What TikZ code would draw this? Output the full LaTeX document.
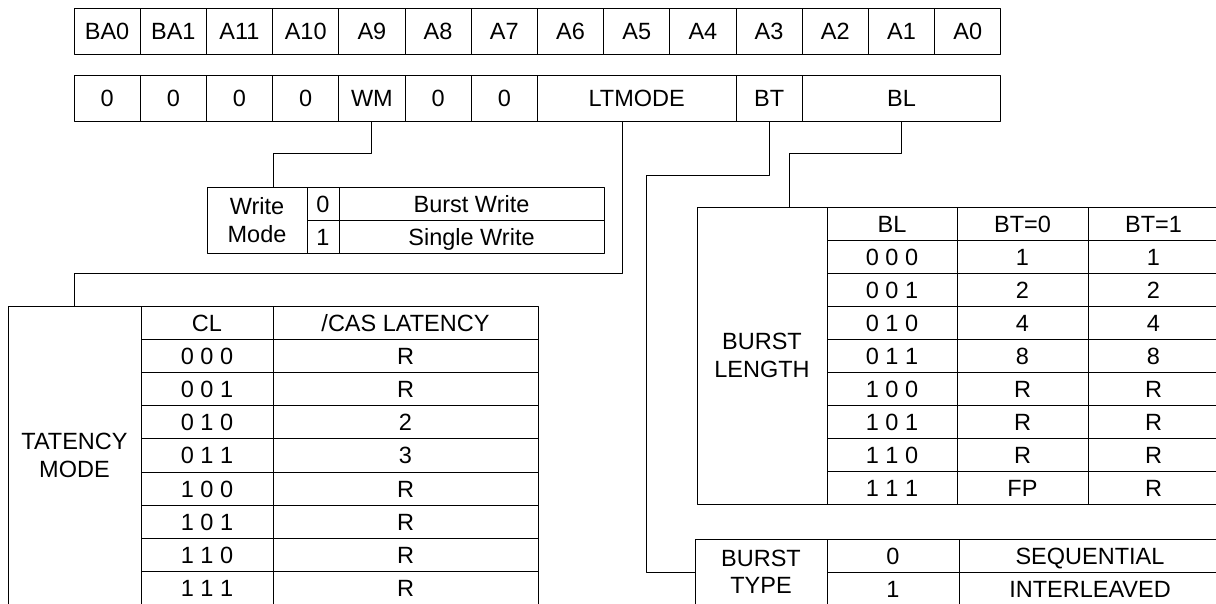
\documentclass[tikz,border=0pt]{standalone}
\usepackage{fontspec}
\setmainfont{Liberation Sans}
\begin{document}
\begin{tikzpicture}[x=1pt, y=-1pt, line width=1pt, line join=round,
	font=\fontsize{23.5}{27.5}\selectfont,
	cell/.style={draw, anchor=north west, inner sep=0pt, outer sep=0pt, text height=17pt, text depth=0pt},
	bit/.style={cell, minimum width=66.2pt, minimum height=46pt},
	row/.style={cell, minimum height=33pt},
	lbl/.style={draw, anchor=north west, inner sep=0pt, outer sep=0pt, align=center}]
	\useasboundingbox (0,0) rectangle (1216,603);
	\clip (0,0) rectangle (1216,603);
	% address bits
	\foreach \a [count=\i from 0] in {BA0,BA1,A11,A10,A9,A8,A7,A6,A5,A4,A3,A2,A1,A0}
	\node[bit] (a\i) at (74+66.2*\i,8) {\a};
	% mode register fields
	\foreach \b [count=\i from 0] in {0,0,0,0,WM,0,0}
	\node[bit] (b\i) at (74+66.2*\i,75) {\b};
	\node[bit, minimum width=198.6pt] (ltmode) at (537.4,75) {LTMODE};
	\node[bit] (bt) at (736,75) {BT};
	\node[bit, minimum width=198.6pt] (bl) at (802.2,75) {BL};
	% write mode
	\node[lbl, minimum width=100pt, minimum height=66pt] (wmode) at (207,187) {Write\\Mode};
	\node[row, minimum width=32pt] (w0) at (307,187) {0};
	\node[row, minimum width=32pt] (w1) at (307,220) {1};
	\node[row, minimum width=265pt] (wburst) at (339,187) {Burst Write};
	\node[row, minimum width=265pt] (wsingle) at (339,220) {Single Write};
	% latency mode
	\node[lbl, minimum width=133pt, minimum height=298.8pt] (lat) at (8,306) {TATENCY\\MODE};
	\node[row, minimum width=132pt, minimum height=33.2pt] (cl) at (141,306) {CL};
	\node[row, minimum width=265pt, minimum height=33.2pt] (cas) at (273,306) {/CAS LATENCY};
	\foreach \c/\v [count=\i] in {0 0 0/R, 0 0 1/R, 0 1 0/2, 0 1 1/3, 1 0 0/R, 1 0 1/R, 1 1 0/R, 1 1 1/R}{
		\node[row, minimum width=132pt, minimum height=33.2pt] (cl\i) at (141,306+33.2*\i) {\c};
		\node[row, minimum width=265pt, minimum height=33.2pt] (cas\i) at (273,306+33.2*\i) {\v};
	}
	% burst length
	\node[lbl, minimum width=130pt, minimum height=297pt] (blen) at (697,207) {BURST\\LENGTH};
	\node[row, minimum width=130pt] (blh) at (827,207) {BL};
	\node[row, minimum width=131pt] (bta) at (957,207) {BT=0};
	\node[row, minimum width=131pt] (btb) at (1088,207) {BT=1};
	\foreach \c/\u/\v [count=\i] in {0 0 0/1/1, 0 0 1/2/2, 0 1 0/4/4, 0 1 1/8/8, 1 0 0/R/R, 1 0 1/R/R, 1 1 0/R/R, 1 1 1/FP/R}{
		\node[row, minimum width=130pt] (blc\i) at (827,207+33*\i) {\c};
		\node[row, minimum width=131pt] (bla\i) at (957,207+33*\i) {\u};
		\node[row, minimum width=131pt] (blb\i) at (1088,207+33*\i) {\v};
	}
	% burst type
	\node[lbl, minimum width=132pt, minimum height=66pt] (btype) at (695,539) {BURST\\TYPE};
	\node[row, minimum width=132pt] (ty0) at (827,539) {0};
	\node[row, minimum width=262pt] (seq) at (959,539) {SEQUENTIAL};
	\node[row, minimum width=132pt] (ty1) at (827,572) {1};
	\node[row, minimum width=262pt] (intl) at (959,572) {INTERLEAVED};
	% connectors
	\draw (b4.south) -- ++(0,32) -| ([xshift=16pt]wmode.north);
	\draw ([xshift=-14pt]ltmode.south) -- ++(0,152) -| (lat.north);
	\draw (bt.south) -- ++(0,54) -| ([xshift=-49pt]btype.west) -- (btype.west);
	\draw (bl.south) -- ++(0,32) -| ([xshift=27pt]blen.north);
\end{tikzpicture}
\end{document}
